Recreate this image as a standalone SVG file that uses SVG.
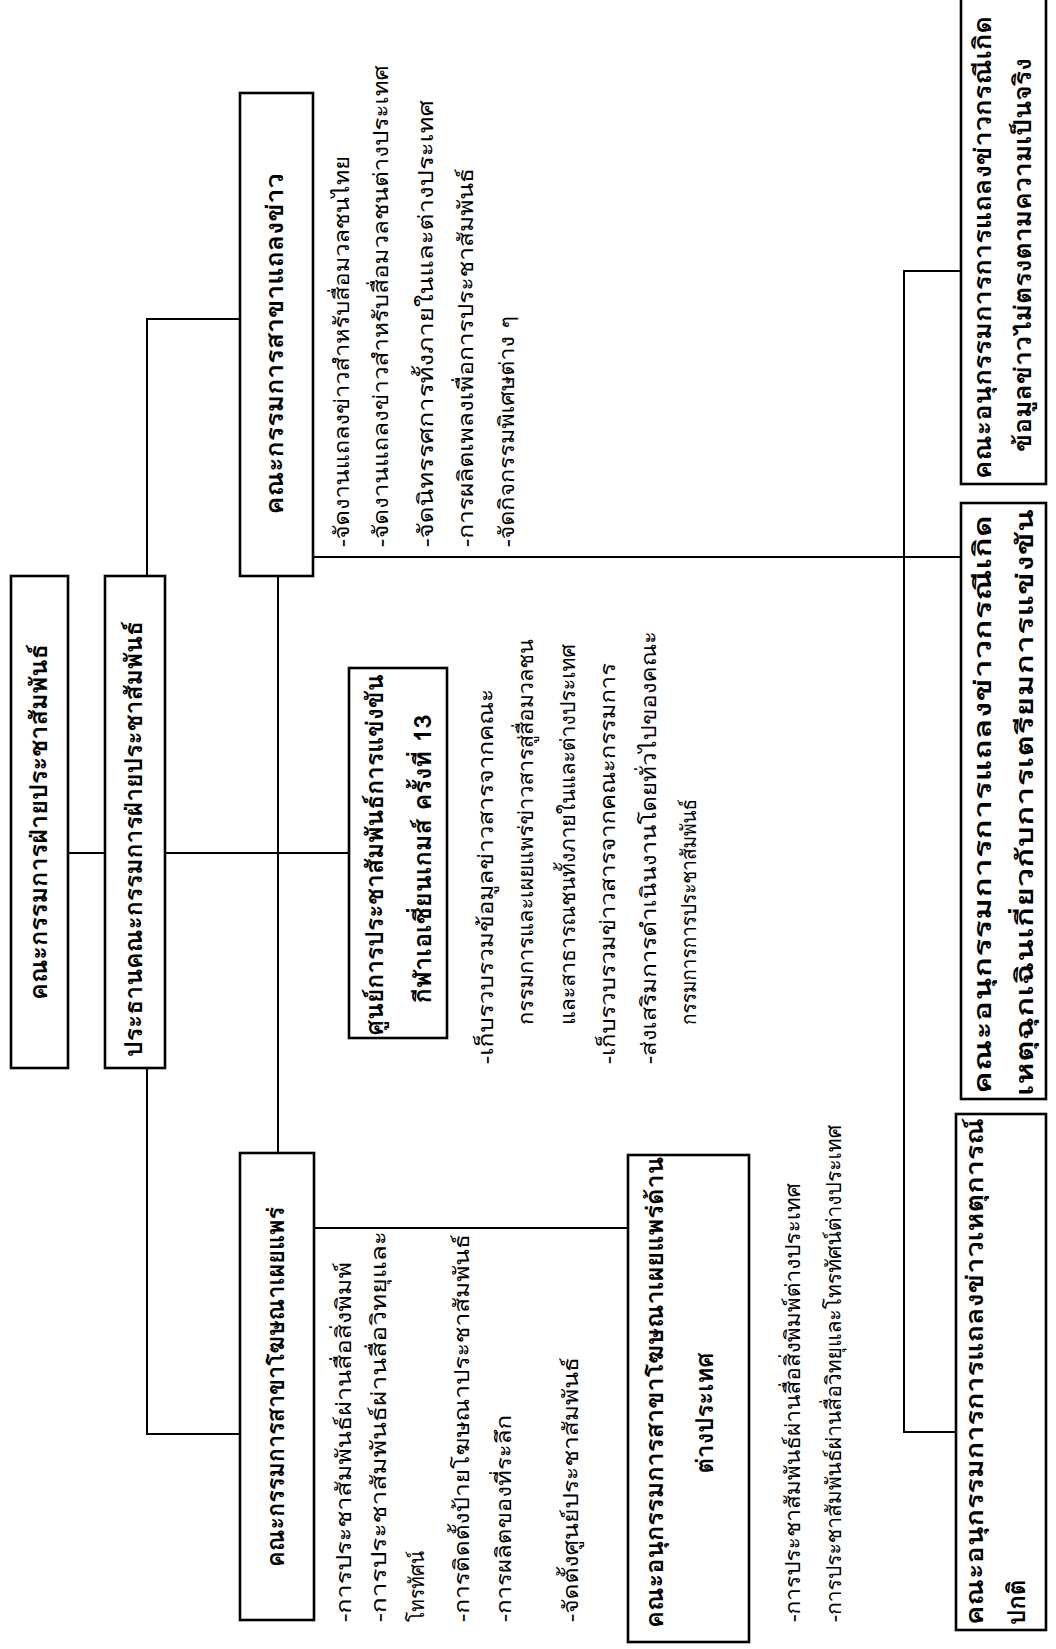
<svg xmlns="http://www.w3.org/2000/svg" width="1056" height="1649" viewBox="0 0 1056 1649">
<style>
.box{fill:#fff;stroke:#000;stroke-width:2.6}
.con{fill:none;stroke:#000;stroke-width:2}
.t{font-family:"Loma","Garuda","Noto Sans Thai Looped","Noto Sans Thai","Noto Sans","DejaVu Sans",sans-serif;fill:#000}
.b{font-size:24px;font-weight:bold}
.r{font-size:21px}
</style>
<rect width="1056" height="1649" fill="#fff"/>
<g transform="translate(0,1649) rotate(-90)">
<g id="connectors">
<path class="con" d="M796,68 V105"/>
<path class="con" d="M796,165 V349"/>
<path class="con" d="M1073,278 H496"/>
<path class="con" d="M1073,147 H1330 V240"/>
<path class="con" d="M581,147 H215 V240"/>
<path class="con" d="M1092,313 V961"/>
<path class="con" d="M1378,961 V904 H217 V956"/>
<path class="con" d="M421,314 V628"/>
</g>
<g id="n1"><rect class="box" x="581" y="11" width="492" height="57"/>
<text class="t b" x="827" y="47" text-anchor="middle" textLength="356" lengthAdjust="spacingAndGlyphs">คณะกรรมการฝ่ายประชาสัมพันธ์</text></g>
<g id="n2"><rect class="box" x="581" y="105" width="492" height="60"/>
<text class="t b" x="810" y="142" text-anchor="middle" textLength="436" lengthAdjust="spacingAndGlyphs">ประธานคณะกรรมการฝ่ายประชาสัมพันธ์</text></g>
<g id="n3"><rect class="box" x="1073" y="240" width="483" height="73"/>
<text class="t b" x="1305" y="283" text-anchor="middle" textLength="341" lengthAdjust="spacingAndGlyphs">คณะกรรมการสาขาแถลงข่าว</text></g>
<g id="n4"><rect class="box" x="611" y="349" width="370" height="98"/>
<text class="t b" x="794" y="383" text-anchor="middle" textLength="361" lengthAdjust="spacingAndGlyphs">ศูนย์การประชาสัมพันธ์การแข่งขัน</text>
<text class="t b" x="790" y="431" text-anchor="middle" textLength="289" lengthAdjust="spacingAndGlyphs">กีฬาเอเชี่ยนเกมส์ ครั้งที่ 13</text></g>
<g id="n5"><rect class="box" x="29" y="240" width="467" height="74"/>
<text class="t b" x="262" y="284" text-anchor="middle" textLength="360" lengthAdjust="spacingAndGlyphs">คณะกรรมการสาขาโฆษณาเผยแพร่</text></g>
<g id="n6"><rect class="box" x="7" y="628" width="487" height="121"/>
<text class="t b" x="21" y="663" textLength="471" lengthAdjust="spacingAndGlyphs">คณะอนุกรรมการสาขาโฆษณาเผยแพร่ด้าน</text>
<text class="t b" x="236" y="713" text-anchor="middle">ต่างประเทศ</text></g>
<g id="n7"><rect class="box" x="1165" y="961" width="490" height="85"/>
<text class="t b" x="1170" y="991" textLength="463" lengthAdjust="spacingAndGlyphs">คณะอนุกรรมการการแถลงข่าวกรณีเกิด</text>
<text class="t b" x="1394" y="1031" text-anchor="middle" textLength="394" lengthAdjust="spacingAndGlyphs">ข้อมูลข่าวไม่ตรงตามความเป็นจริง</text></g>
<g id="n8"><rect class="box" x="550" y="961" width="596" height="85"/>
<text class="t b" x="555" y="991" textLength="579" lengthAdjust="spacingAndGlyphs">คณะอนุกรรมการการแถลงข่าวกรณีเกิด</text>
<text class="t b" x="553" y="1033" textLength="587" lengthAdjust="spacingAndGlyphs">เหตุฉุกเฉินเกี่ยวกับการเตรียมการแข่งขัน</text></g>
<g id="n9"><rect class="box" x="19" y="956" width="516" height="90"/>
<text class="t b" x="24" y="983" textLength="507" lengthAdjust="spacingAndGlyphs">คณะอนุกรรมการการแถลงข่าวเหตุการณ์</text>
<text class="t b" x="24" y="1025">ปกติ</text></g>
<g id="news-items">
<text class="t r" x="1102" y="349" textLength="391" lengthAdjust="spacingAndGlyphs">-จัดงานแถลงข่าวสำหรับสื่อมวลชนไทย</text>
<text class="t r" x="1102" y="388" textLength="482" lengthAdjust="spacingAndGlyphs">-จัดงานแถลงข่าวสำหรับสื่อมวลชนต่างประเทศ</text>
<text class="t r" x="1102" y="433" textLength="447" lengthAdjust="spacingAndGlyphs">-จัดนิทรรศการทั้งภายในและต่างประเทศ</text>
<text class="t r" x="1102" y="473" textLength="379" lengthAdjust="spacingAndGlyphs">-การผลิตเพลงเพื่อการประชาสัมพันธ์</text>
<text class="t r" x="1102" y="514" textLength="231" lengthAdjust="spacingAndGlyphs">-จัดกิจกรรมพิเศษต่าง ๆ</text>
</g>
<g id="center-items">
<text class="t r" x="585" y="493" textLength="375" lengthAdjust="spacingAndGlyphs">-เก็บรวบรวมข้อมูลข่าวสารจากคณะ</text>
<text class="t r" x="624" y="533" textLength="386" lengthAdjust="spacingAndGlyphs">กรรมการและเผยแพร่ข่าวสารสู่สื่อมวลชน</text>
<text class="t r" x="624" y="575" textLength="381" lengthAdjust="spacingAndGlyphs">และสาธารณชนทั้งภายในและต่างประเทศ</text>
<text class="t r" x="585" y="615" textLength="401" lengthAdjust="spacingAndGlyphs">-เก็บรวบรวมข่าวสารจากคณะกรรมการ</text>
<text class="t r" x="585" y="656" textLength="433" lengthAdjust="spacingAndGlyphs">-ส่งเสริมการดำเนินงานโดยทั่วไปของคณะ</text>
<text class="t r" x="624" y="696" textLength="226" lengthAdjust="spacingAndGlyphs">กรรมการการประชาสัมพันธ์</text>
</g>
<g id="ad-items">
<text class="t r" x="27" y="351" textLength="360" lengthAdjust="spacingAndGlyphs">-การประชาสัมพันธ์ผ่านสื่อสิ่งพิมพ์</text>
<text class="t r" x="27" y="386" textLength="391" lengthAdjust="spacingAndGlyphs">-การประชาสัมพันธ์ผ่านสื่อวิทยุและ</text>
<text class="t r" x="27" y="424" textLength="71" lengthAdjust="spacingAndGlyphs">โทรทัศน์</text>
<text class="t r" x="27" y="469" textLength="388" lengthAdjust="spacingAndGlyphs">-การติดตั้งป้ายโฆษณาประชาสัมพันธ์</text>
<text class="t r" x="27" y="511" textLength="207" lengthAdjust="spacingAndGlyphs">-การผลิตของที่ระลึก</text>
<text class="t r" x="27" y="578" textLength="265" lengthAdjust="spacingAndGlyphs">-จัดตั้งศูนย์ประชาสัมพันธ์</text>
</g>
<g id="foreign-items">
<text class="t r" x="27" y="800" textLength="439" lengthAdjust="spacingAndGlyphs">-การประชาสัมพันธ์ผ่านสื่อสิ่งพิมพ์ต่างประเทศ</text>
<text class="t r" x="27" y="841" textLength="497" lengthAdjust="spacingAndGlyphs">-การประชาสัมพันธ์ผ่านสื่อวิทยุและโทรทัศน์ต่างประเทศ</text>
</g>
</g>
</svg>
